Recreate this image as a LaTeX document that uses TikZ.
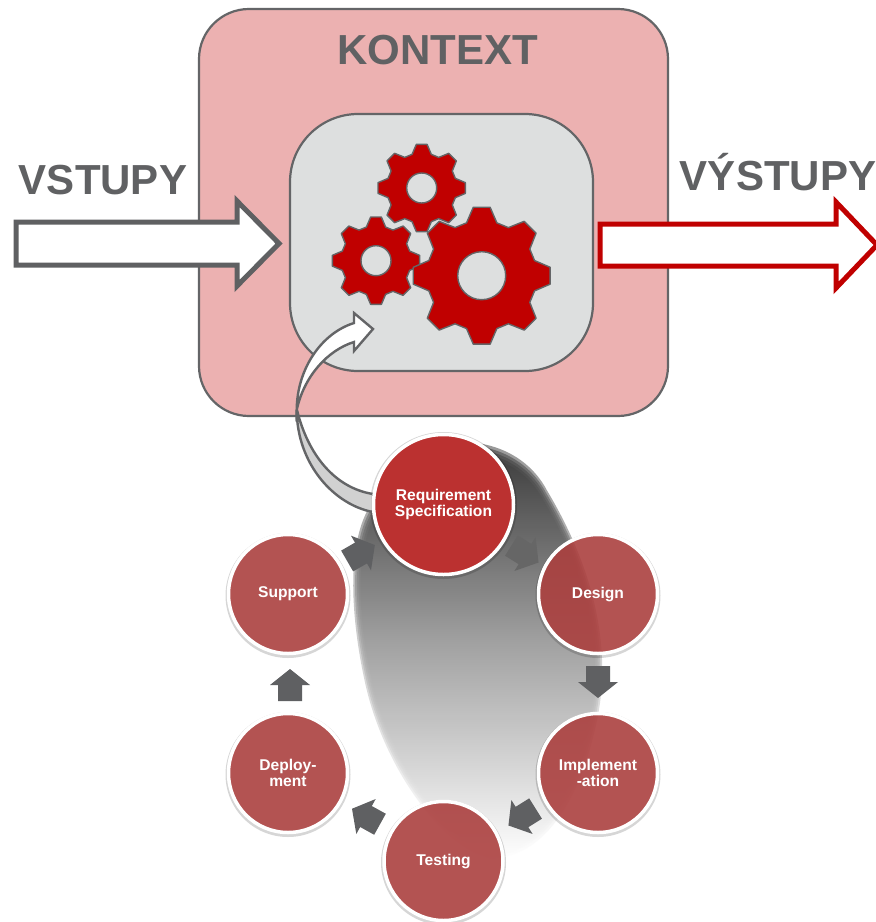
\documentclass[tikz,border=0pt]{standalone}
\usepackage{fontspec}
\setmainfont{Liberation Sans}
\definecolor{edge}{HTML}{646567}
\definecolor{ctxfill}{HTML}{ECB1B1}
\definecolor{procfill}{HTML}{DDDFDF}
\definecolor{gearred}{HTML}{C00000}
\definecolor{titlegray}{HTML}{606163}
\definecolor{arrowgray}{HTML}{5F6062}
\definecolor{reqred}{HTML}{BB3130}
\definecolor{stepred}{HTML}{AF4140}
\tikzset{
 x=1pt,y=-1pt,
 bigtext/.style={text=titlegray,font=\bfseries\fontsize{42}{42}\selectfont,inner sep=0pt},
 roundbox/.style={draw=edge,line width=2.2pt,rounded corners=#1},
 blockarrow/.style={line width=5pt,fill=white,miter limit=10},
 stepnode/.style={circle,minimum size=119pt,inner sep=0pt,fill=stepred,fill opacity=.88,text opacity=1,draw=white,draw opacity=1,line width=3.5pt,text=white,align=center,font=\bfseries\fontsize{15.6}{16}\selectfont},
 softring/.style={fill=black,fill opacity=.16},
}
\usetikzlibrary{calc}
\newcommand{\gearshape}[5]{% cx cy outer root hole
 \draw[fill=gearred,draw=edge,line width=1.4pt,even odd rule,line join=round]
 ($(#1,#2)+(-16:#4)$)
 \foreach \k in {0,45,...,315}{ -- ($(#1,#2)+(\k-16:#4)$) -- ($(#1,#2)+(\k-7:#3)$) -- ($(#1,#2)+(\k+7:#3)$) -- ($(#1,#2)+(\k+16:#4)$) -- ($(#1,#2)+(\k+29:#4)$)} -- cycle
 (#1,#2) circle[radius=#5];}
\newcommand{\stepshift}[4][arrowgray]{% centre x, y, angle
 \fill[#1,rotate around={-#4:(#2,#3)},shift={(#2,#3)}] (-16,-12) -- (0,-12) -- (0,-20) -- (16,0) -- (0,20) -- (0,12) -- (-16,12) -- cycle;}
\begin{document}
\begin{tikzpicture}
\useasboundingbox (0,0) rectangle (876,922);
\clip (0,0) rectangle (876,922);
\fill[white] (0,0) rectangle (876,922);
% context
\draw[roundbox=50pt,fill=ctxfill] (199,9) rectangle (668,416);
\node[bigtext] (kontext) at (437.5,50) {KONTEXT};
\draw[roundbox=68pt,fill=procfill] (290,114) rectangle (593,371);
% gears
\gearshape{421.7}{188}{44}{35}{15}
\gearshape{376}{260.7}{44}{35}{15}
\gearshape{481.7}{275.7}{69}{55}{24}
% inputs/outputs
\node[bigtext] (vstupy) at (103,180) {VSTUPY};
\node[bigtext] (vystupy) at (778,172) {VÝSTUPY};
\coordinate (inA) at (16,222);
\draw[blockarrow,draw=arrowgray] (inA) -- (237,222) -- (237,201) -- (279,243.5) -- (237,286) -- (237,265) -- (16,265) -- cycle;
\coordinate (outA) at (600,224);
\draw[blockarrow,draw=gearred] (outA) -- (836,224) -- (836,202) -- (877,245) -- (836,288) -- (836,266) -- (600,266) -- cycle;
% shadow
\foreach \s in {1.03,1.015,1,.985,.97}{
\begin{scope}[fill opacity=.5]
\clip[shift={(478,645)},scale=\s,shift={(-478,-645)}]
 (372,512) .. controls (400,432) and (510,428) .. (545,495)
 .. controls (590,570) and (610,650) .. (592,725)
 .. controls (575,800) and (540,852) .. (490,852)
 .. controls (440,840) and (385,760) .. (368,680)
 .. controls (355,620) and (350,550) .. (372,512) -- cycle;
\shade[top color=black!80,bottom color=white,middle color=black!36] (330,440) rectangle (630,860);
\end{scope}}
% step arrows
\stepshift[black!60]{525}{554}{32}
\stepshift{598}{682}{90}
\stepshift{522}{817}{148}
\stepshift{366}{816.5}{209}
\stepshift{290}{685}{-90}
\stepshift{361}{553}{-30}
% soft rings
\foreach \cx/\cy in {598/594,598/773,443.5/861,288/773,288/594}{
 \fill[softring] (\cx,\cy+1.5) circle[radius=62.5];}
\fill[softring] (443.5,505.5) circle[radius=73.5];
% steps
\node[stepnode] (design) at (598,594) {Design};
\node[stepnode] (impl) at (598,773) {Implement\\-ation};
\node[stepnode] (testing) at (443.5,861) {Testing};
\node[stepnode] (deploy) at (288,773) {Deploy-\\ment};
\node[stepnode] (support) at (288,594) {Support};
% curved arrow
\draw[edge,line width=2.4pt,fill=black!18,line join=round] (296.7,410) .. controls (297,465) and (335,505) .. (373,512) -- (373,494) .. controls (335,488) and (308,455) .. (297,410) -- cycle;
\draw[edge,line width=2.4pt,fill=white,line join=miter] (296.7,410) .. controls (297,368) and (322,333) .. (354,323) -- (354,313) -- (373,329) -- (354,351) -- (354,342) .. controls (328,350) and (304,376) .. (296.7,410) -- cycle;
\node[stepnode,minimum size=140pt,fill=reqred,fill opacity=1] (req) at (443.5,504.5) {\raisebox{-1.5pt}{Requirement}\\\raisebox{-1.5pt}{Specification}};
\end{tikzpicture}
\end{document}
